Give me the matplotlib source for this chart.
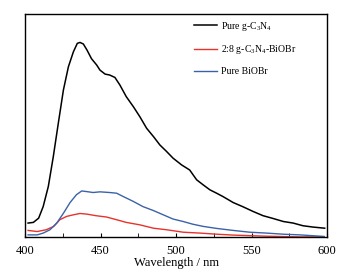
import numpy as np
import matplotlib.pyplot as plt
from matplotlib.ticker import MultipleLocator

plt.rcParams['font.family'] = ['Liberation Serif', 'DejaVu Serif']
plt.rcParams['mathtext.fontset'] = 'custom'
plt.rcParams['mathtext.rm'] = 'Liberation Serif'

# PL spectra (arbitrary units)
wl_black = [402, 405.5, 409, 412, 415.4, 418.7, 422, 425.4, 428.7, 432, 434.6, 436.4,
            438.6, 441, 444, 447.4, 449.6, 453, 456, 459.5, 462.8, 467, 471.7, 476,
            480.5, 485, 489.3, 493.7, 498, 503.6, 509, 513.6, 518, 522.4, 526.8, 531,
            537.8, 544, 551, 557.6, 564, 571, 577.5, 584, 590.7, 598.4]
pl_black = [0.063, 0.066, 0.085, 0.137, 0.227, 0.361, 0.51, 0.66, 0.764, 0.831, 0.869, 0.873,
            0.866, 0.839, 0.80, 0.772, 0.749, 0.731, 0.727, 0.716, 0.682, 0.63, 0.585, 0.54,
            0.488, 0.451, 0.413, 0.384, 0.354, 0.324, 0.301, 0.257, 0.234, 0.212, 0.197, 0.182,
            0.155, 0.137, 0.115, 0.096, 0.084, 0.070, 0.063, 0.051, 0.045, 0.040]

wl_red = [402, 408, 414, 419, 423, 427.6, 432, 436.4, 441, 447, 454, 460.6, 467, 476,
          485, 493.7, 504.7, 516, 527, 538, 560, 582, 598]
pl_red = [0.030, 0.025, 0.033, 0.048, 0.078, 0.093, 0.10, 0.106, 0.103, 0.096, 0.09, 0.078,
          0.066, 0.055, 0.040, 0.033, 0.022, 0.018, 0.013, 0.009, 0.004, 0.001, 0.001]

wl_blue = [402, 408, 412, 416.5, 421, 425.4, 429.8, 434, 437.5, 441, 445, 449.6, 456,
           460.6, 465, 471.7, 478, 485, 491.5, 498, 504.7, 511, 518, 526.8, 537.8, 548.8,
           560, 571, 582, 598]
pl_blue = [0.010, 0.010, 0.018, 0.033, 0.063, 0.107, 0.155, 0.19, 0.207, 0.204, 0.20, 0.203,
           0.20, 0.197, 0.182, 0.16, 0.137, 0.119, 0.10, 0.081, 0.070, 0.058, 0.048, 0.039,
           0.030, 0.022, 0.018, 0.013, 0.010, 0.003]

fig = plt.figure(figsize=(3.48, 2.77), dpi=100)
ax = fig.add_axes([0.072, 0.144, 0.868, 0.805])

ax.plot(wl_black, pl_black, color='black', lw=1.1, label=r'Pure g-C$_3$N$_4$')
ax.plot(wl_red, pl_red, color='#e8322c', lw=1.0, label=r'2:8 g-C$_3$N$_4$-BiOBr')
ax.plot(wl_blue, pl_blue, color='#3b62a8', lw=1.0, label='Pure BiOBr')

ax.set_xlim(400, 600)
ax.set_ylim(0, 1)
ax.xaxis.set_major_locator(MultipleLocator(50))
ax.xaxis.set_minor_locator(MultipleLocator(25))
ax.tick_params(axis='x', which='both', direction='in', labelsize=9, pad=6, length=3)
ax.set_yticks([])
for s in ax.spines.values():
    s.set_linewidth(1.0)

ax.set_xlabel('Wavelength / nm', fontsize=9, labelpad=0)

ax.legend(loc='upper left', bbox_to_anchor=(0.53, 1.015), frameon=False, fontsize=7,
          handlelength=2.4, handletextpad=0.4, labelspacing=1.1)

fig.savefig('out.png', dpi=100)
